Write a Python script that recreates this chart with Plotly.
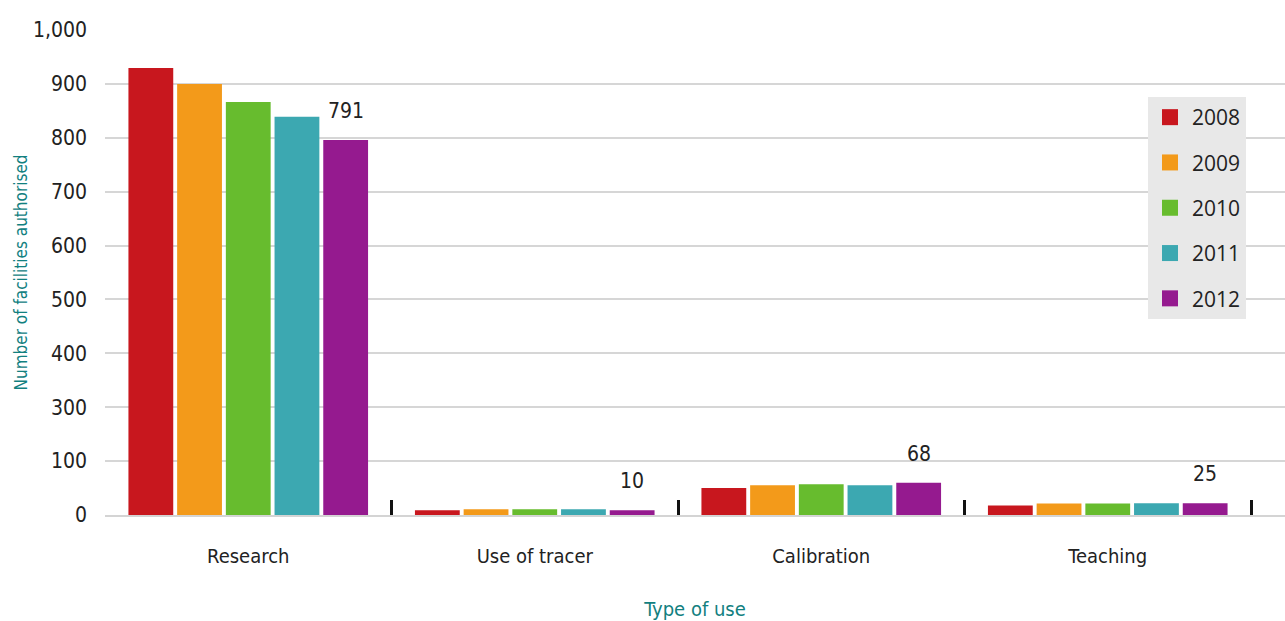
import numpy as np
import plotly.graph_objects as go

categories = ["Research", "Use of tracer", "Calibration", "Teaching"]
years = ["2008", "2009", "2010", "2011", "2012"]
v2008 = [943, 10, 57, 20]
v2009 = [909, 12, 63, 24]
v2010 = [871, 12, 65, 24]
v2011 = [840, 12, 63, 25]
v2012 = [791, 10, 68, 25]
labels_2012 = ["791", "10", "68", "25"]
ytick_labels = ["0", "100", "300", "400", "500", "600", "700", "800", "900", "1,000"]

series = [v2008, v2009, v2010, v2011, v2012]
colors = ["#c8171e", "#f39a1a", "#67bc2e", "#3ca8b1", "#951a8f"]

NARROW = "Liberation Sans Narrow, DejaVu Sans Condensed, Arial Narrow, DejaVu Sans, sans-serif"
TEAL = "#12807f"

W, H = 1285, 621
ML, MR, MT, MB = 105, 0, 30, 106
cat_px = 286.5
plot_w = W - ML - MR
plot_h = H - MT - MB
x_range = [-0.5, -0.5 + plot_w / cat_px]
ymax = 1023
bargap = 0.15

fig = go.Figure()
for name, vals, col in zip(years, series, colors):
    fig.add_trace(go.Bar(x=categories, y=vals, name=name, marker_color=col,
                         marker_line_width=0, legendgroup=name, showlegend=False))
    # legend entry with a larger square swatch
    fig.add_trace(go.Scatter(x=[None], y=[None], mode="markers", name=name, legendgroup=name,
                             marker=dict(symbol="square", size=16, color=col), showlegend=True))

# value labels above 2012 bars
slot = (1 - bargap) / len(years)
offset_units = -(1 - bargap) / 2 + slot * (len(years) - 0.5)
for cat, val, lab in zip(categories, v2012, labels_2012):
    fig.add_annotation(x=cat, y=val, xref="x", yref="y", text=lab, showarrow=False,
                       xshift=offset_units * cat_px, yshift=15, yanchor="bottom",
                       font=dict(family=NARROW, size=21, color="#222222"))

fig.update_layout(
    width=W, height=H,
    margin=dict(l=ML, r=MR, t=MT, b=MB),
    paper_bgcolor="white", plot_bgcolor="white",
    barmode="group", bargap=bargap, bargroupgap=0.08,
    showlegend=True,
    legend=dict(x=(1148 - ML) / plot_w, y=1 - (97 - MT) / plot_h, xanchor="left", yanchor="top",
                bgcolor="#e8e8e8", font=dict(family="Open Sans, sans-serif", size=21, color="#222"),
                traceorder="grouped", tracegroupgap=15, itemwidth=34),
    xaxis=dict(type="category", range=x_range, tickson="boundaries", ticks="inside",
               ticklen=15, tickwidth=3, tickcolor="#111111", automargin=False,
               showgrid=False, showline=True, linecolor="#d4d4d4", linewidth=2,
               tickfont=dict(family=NARROW, size=20, color="#222"), ticklabelstandoff=22,
               title=dict(text="Type of use", font=dict(family=NARROW, size=20, color=TEAL), standoff=38)),
    yaxis=dict(range=[0, ymax], tickvals=list(np.linspace(0, ymax, len(ytick_labels))),
               ticktext=ytick_labels, showgrid=True, gridcolor="#d6d6d6", gridwidth=2,
               zeroline=False, showline=False, ticks="", automargin=False,
               tickfont=dict(family=NARROW, size=21, color="#222"), ticklabelstandoff=17,
               title=dict(text="Number of facilities authorised",
                          font=dict(family=NARROW, size=17, color=TEAL), standoff=0)),
)

fig.write_html("out.html")
